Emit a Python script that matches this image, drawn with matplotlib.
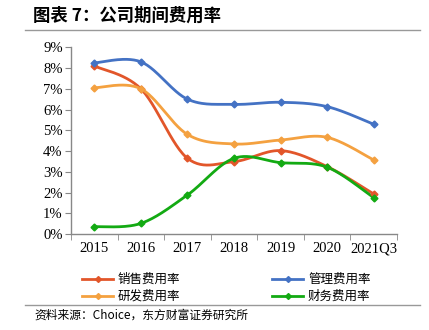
import numpy as np
import matplotlib
matplotlib.use('Agg')
import matplotlib.pyplot as plt
from matplotlib.lines import Line2D

# ─── Data ────────────────────────────────────────────────────────────────────
years = ['2015', '2016', '2017', '2018', '2019', '2020', '2021Q3']
sales = [8.10, 7.00, 3.65, 3.49, 4.02, 3.25, 1.93]
admin = [8.25, 8.30, 6.50, 6.25, 6.35, 6.14, 5.29]
rnd = [7.05, 7.00, 4.80, 4.34, 4.53, 4.66, 3.57]
finance = [0.35, 0.51, 1.88, 3.65, 3.44, 3.22, 1.75]

series = [
    ('销售费用率', sales, '#E2562A'),
    ('管理费用率', admin, '#4472C4'),
    ('研发费用率', rnd, '#F4A140'),
    ('财务费用率', finance, '#13AA13'),
]

CJK = ['Noto Sans CJK SC', 'DejaVu Sans']
SERIF = 'Liberation Serif'


def smooth(x, y, n=30):
    """Excel-like smoothed line: Catmull-Rom through the points."""
    x = np.asarray(x, float)
    y = np.asarray(y, float)
    px = np.concatenate([[x[0]], x, [x[-1]]])
    py = np.concatenate([[y[0]], y, [y[-1]]])
    xs, ys = [], []
    for i in range(1, len(px) - 2):
        p0, p1, p2, p3 = (np.array([px[j], py[j]]) for j in (i - 1, i, i + 1, i + 2))
        c1 = p1 + (p2 - p0) / 6.0
        c2 = p2 - (p3 - p1) / 6.0
        t = np.linspace(0, 1, n)[:, None]
        b = ((1 - t) ** 3) * p1 + 3 * ((1 - t) ** 2) * t * c1 + 3 * (1 - t) * t ** 2 * c2 + t ** 3 * p2
        xs.append(b[:, 0])
        ys.append(b[:, 1])
    return np.concatenate(xs), np.concatenate(ys)


fig = plt.figure(figsize=(4.29, 3.30), dpi=100)
ax = fig.add_axes([71 / 429, 1 - 234 / 330, 326 / 429, (234 - 47.3) / 330])

xi = np.arange(len(years))
for name, vals, col in series:
    v = np.array(vals) / 100
    sx, sy = smooth(xi, v)
    ax.plot(sx, sy, color=col, lw=2.0, solid_capstyle='round', zorder=3)
    ax.plot(xi, v, ls='none', marker='D', ms=3.5, color=col, zorder=4)

ax.set_xlim(-0.5, len(years) - 0.5)
ax.set_ylim(0, 0.09)
ax.set_yticks(np.arange(0, 0.091, 0.01))
ax.set_yticklabels([f'{k}%' for k in range(10)], fontfamily=SERIF, fontsize=10.5)
ax.set_xticks(xi)
ax.set_xticklabels(years, fontfamily=SERIF, fontsize=10.5)
ax.set_xticks(np.arange(-0.5, len(years)), minor=True)
ax.tick_params(axis='x', which='major', length=0, pad=6)
ax.tick_params(axis='x', which='minor', length=4, color='#888888', direction='out')
ax.tick_params(axis='y', length=4, color='#888888', direction='out', pad=2)
for s in ('top', 'right'):
    ax.spines[s].set_visible(False)
for s in ('left', 'bottom'):
    ax.spines[s].set_color('#888888')
    ax.spines[s].set_linewidth(1.0)

# Title and rules
fig.text(33 / 429, 1 - 16 / 330, '图表 7：公司期间费用率', family=CJK, fontsize=12.5,
         fontweight='bold', va='center', ha='left')
fig.add_artist(Line2D([25 / 429, 420 / 429], [1 - 30 / 330] * 2, color='#999999', lw=1.0))
fig.add_artist(Line2D([25 / 429, 420 / 429], [1 - 305 / 330] * 2, color='#999999', lw=1.0))
fig.text(34 / 429, 1 - 315 / 330, '资料来源：Choice，东方财富证券研究所', family=CJK,
         fontsize=8.5, va='center', ha='left')

# Legend drawn manually in two columns
leg_pos = [(82, 279), (272, 279), (82, 296), (272, 296)]
for (name, vals, col), (lx, ly) in zip(series, leg_pos):
    yy = 1 - ly / 330
    fig.add_artist(Line2D([lx / 429, (lx + 31) / 429], [yy, yy], color=col, lw=2.0))
    fig.add_artist(Line2D([(lx + 15.5) / 429], [yy], color=col, marker='D', ms=3))
    fig.text((lx + 36) / 429, yy, name, family=CJK, fontsize=9, va='center', ha='left')

fig.savefig('out.png', dpi=100)
